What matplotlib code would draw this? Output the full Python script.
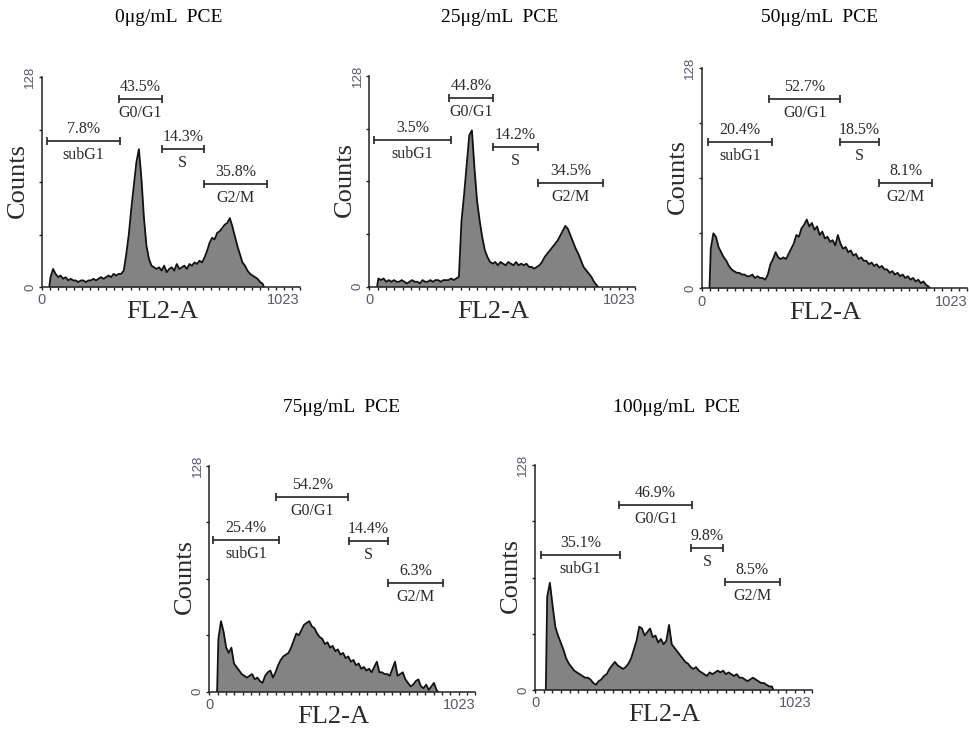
import numpy as np
import matplotlib.pyplot as plt

# FL2-A histograms, counts per 10-channel bin (channels 0-1023)
bin_width = 10
start_channel = [30, 30, 30, 30, 40]

counts_0 = [6, 11, 8, 6, 7, 5, 6, 4, 5, 4,
            4, 3, 4, 4, 3, 4, 4, 5, 4, 5,
            6, 5, 6, 7, 6, 8, 7, 8, 8, 10,
            20, 32, 48, 62, 76, 84, 66, 42, 25, 17,
            13, 12, 11, 12, 10, 13, 9, 11, 12, 10,
            14, 11, 12, 13, 11, 14, 13, 15, 14, 16,
            15, 18, 22, 27, 30, 29, 33, 34, 36, 38,
            39, 42, 37, 31, 25, 20, 15, 13, 10, 8,
            7, 6, 5, 3, 2]

counts_25 = [5, 4, 5, 3, 4, 3, 4, 3, 3, 4,
             3, 2, 3, 4, 3, 3, 2, 4, 3, 3,
             4, 3, 4, 4, 3, 4, 4, 4, 5, 4,
             5, 6, 40, 56, 74, 92, 95, 72, 52, 40,
             30, 22, 18, 15, 14, 15, 13, 15, 14, 13,
             15, 14, 13, 15, 13, 14, 13, 14, 12, 12,
             11, 12, 13, 15, 18, 20, 22, 24, 26, 28,
             31, 34, 37, 35, 31, 27, 23, 20, 16, 12,
             10, 8, 6, 3, 1]

counts_50 = [23, 32, 30, 24, 21, 18, 16, 13, 11, 10,
             9, 9, 8, 8, 7, 7, 8, 6, 7, 6,
             6, 5, 8, 14, 17, 21, 18, 17, 18, 17,
             20, 23, 26, 31, 30, 35, 37, 40, 36, 38,
             34, 36, 31, 33, 29, 30, 27, 28, 25, 31,
             26, 23, 24, 21, 22, 19, 20, 17, 18, 16,
             16, 14, 15, 13, 14, 12, 13, 11, 11, 9,
             10, 8, 9, 7, 8, 6, 7, 5, 6, 4,
             5, 3, 4, 2, 1]

counts_75 = [30, 40, 34, 25, 22, 25, 16, 14, 12, 10,
             9, 8, 9, 10, 7, 8, 6, 5, 9, 11,
             12, 8, 11, 15, 18, 20, 21, 22, 25, 29,
             33, 32, 35, 38, 39, 40, 37, 36, 33, 31,
             30, 27, 28, 25, 26, 23, 24, 21, 22, 19,
             20, 17, 18, 15, 16, 13, 14, 12, 13, 11,
             14, 17, 11, 11, 10, 10, 9, 13, 17, 9,
             10, 11, 7, 5, 3, 4, 6, 7, 3, 2,
             4, 1, 3, 5, 1]

counts_100 = [53, 61, 48, 36, 31, 27, 23, 18, 15, 13,
              11, 10, 9, 8, 7, 7, 6, 4, 3, 5,
              6, 8, 9, 12, 14, 16, 14, 13, 12, 13,
              15, 18, 23, 28, 36, 35, 31, 33, 35, 30,
              31, 27, 29, 26, 28, 37, 26, 24, 22, 20,
              18, 16, 15, 13, 12, 13, 11, 10, 9, 8,
              10, 9, 10, 11, 10, 11, 9, 10, 9, 8,
              9, 7, 7, 6, 5, 6, 7, 6, 5, 4,
              4, 3, 2, 2]

titles = ['0μg/mL  PCE', '25μg/mL  PCE', '50μg/mL  PCE', '75μg/mL  PCE', '100μg/mL  PCE']
phases = ['subG1', 'G0/G1', 'S', 'G2/M']

pct_0 = ['7.8%', '43.5%', '14.3%', '35.8%']
pct_25 = ['3.5%', '44.8%', '14.2%', '34.5%']
pct_50 = ['20.4%', '52.7%', '18.5%', '8.1%']
pct_75 = ['25.4%', '54.2%', '14.4%', '6.3%']
pct_100 = ['35.1%', '46.9%', '9.8%', '8.5%']

# gate ranges (channels) for each phase
gates_0 = [(20, 311), (306, 476), (475, 643), (643, 892)]
gates_25 = [(18, 314), (307, 478), (475, 651), (651, 899)]
gates_50 = [(23, 271), (260, 535), (535, 682), (684, 889)]
gates_75 = [(15, 268), (257, 535), (538, 689), (689, 899)]
gates_100 = [(22, 314), (312, 579), (577, 693), (700, 903)]

all_counts = [counts_0, counts_25, counts_50, counts_75, counts_100]
all_pct = [pct_0, pct_25, pct_50, pct_75, pct_100]
all_gates = [gates_0, gates_25, gates_50, gates_75, gates_100]

# layout in pixels: axes box (left, top, right, bottom), title centre, gate bar heights
W, H = 969, 733
boxes = [(41.7, 77, 300, 287), (369.3, 76, 635, 286.7), (701.7, 68.3, 967, 288.3),
         (209.3, 466, 475, 691.7), (535, 465, 812, 690)]
title_pos = [(169, 18), (500, 18), (820, 18), (342, 408), (677, 408)]
gate_heights = [[89, 114.5, 84, 63], [89, 114.4, 85, 63], [85.3, 110, 85.3, 61],
                [86, 110.6, 85.6, 61.8], [76.8, 105, 80.6, 61.6]]

serif = ['Liberation Serif', 'DejaVu Serif']
sans = ['Liberation Sans', 'DejaVu Sans']
text_col = '#2a2a2a'
tick_col = '#5a5868'

fig = plt.figure(figsize=(W / 100, H / 100), dpi=100)

for i in range(5):
    l, t, r, b = boxes[i]
    ax = fig.add_axes([l / W, 1 - b / H, (r - l) / W, (b - t) / H])

    # outline through bin centres, closed down to zero at both ends
    counts = np.array(all_counts[i], dtype=float)
    centres = start_channel[i] + bin_width * (np.arange(len(counts)) + 0.5)
    xs = np.concatenate([[start_channel[i]], centres, [centres[-1] + bin_width / 2]])
    ys = np.concatenate([[0], counts, [0]])
    ax.fill_between(xs, ys, 0, color='#838383', lw=0)
    ax.plot(xs, ys, color='#111111', lw=1.3)

    ax.set_xlim(0, 1023)
    ax.set_ylim(0, 128)
    for side in ['top', 'right']:
        ax.spines[side].set_visible(False)
    for side in ['left', 'bottom']:
        ax.spines[side].set_color('#222222')
        ax.spines[side].set_linewidth(1.1)

    # axis ticks: only the ends are labelled
    ax.set_yticks([0, 32, 64, 96, 128])
    ax.set_yticklabels(['0', '', '', '', '128'], rotation=90, va='center',
                       family=sans, fontsize=9.5, color=tick_col)
    ax.set_xticks([0, 1023])
    ax.set_xticklabels(['0', '1023'], family=sans, fontsize=10.5, color=tick_col)
    ax.get_xticklabels()[1].set_ha('right')
    ax.set_xticks(np.arange(0, 1024, 32), minor=True)
    ax.tick_params(axis='y', length=2.5, width=1, pad=1.5, color='#222222')
    ax.tick_params(axis='x', which='both', length=2, width=1, pad=2.5, color='#222222')

    # gate bars with percentages and phase names
    for (a, c), y, pct, name in zip(all_gates[i], gate_heights[i], all_pct[i], phases):
        ax.plot([a, c], [y, y], color='#333333', lw=1.3, marker='|', ms=6, mew=1.3,
                clip_on=False)
        ax.annotate(pct, xy=((a + c) / 2, y), xytext=(0, 12), textcoords='offset pixels',
                    ha='center', va='center', family=serif, fontsize=11.5, color=text_col)
        ax.annotate(name, xy=((a + c) / 2, y), xytext=(0, -14), textcoords='offset pixels',
                    ha='center', va='center', family=serif, fontsize=11.5, color=text_col)

    ax.annotate('Counts', xy=(0, 0.5), xycoords='axes fraction', xytext=(-24, 2),
                textcoords='offset pixels', rotation=90, ha='center', va='center',
                family=serif, fontsize=19, color=text_col)
    ax.annotate('FL2-A', xy=(0.5, 0), xycoords='axes fraction', xytext=(-9, -25),
                textcoords='offset pixels', ha='center', va='center',
                family=serif, fontsize=19, color=text_col)

    tx, ty = title_pos[i]
    fig.text(tx / W, 1 - ty / H, titles[i], ha='center', va='center',
             family=serif, fontsize=14, color='black')

fig.savefig('out.png', dpi=100)
